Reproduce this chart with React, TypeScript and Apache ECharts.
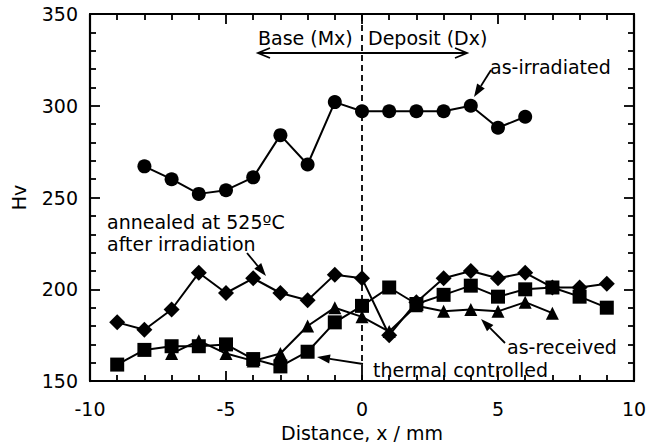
import React, { useEffect, useRef } from "react";
import * as echarts from "echarts";

const irradX = [-8, -7, -6, -5, -4, -3, -2, -1, 0, 1, 2, 3, 4, 5, 6];
const irradY = [267, 260, 252, 254, 261, 284, 268, 302, 297, 297, 297, 297, 300, 288, 294];

const annealX = [-9, -8, -7, -6, -5, -4, -3, -2, -1, 0, 1, 2, 3, 4, 5, 6, 7, 8, 9];
const annealY = [182, 178, 189, 209, 198, 206, 198, 194, 208, 206, 175, 193, 206, 210, 206, 209, 201, 201, 203];

const thermalX = [-9, -8, -7, -6, -5, -4, -3, -2, -1, 0, 1, 2, 3, 4, 5, 6, 7, 8, 9];
const thermalY = [159, 167, 169, 169, 170, 162, 158, 166, 182, 191, 201, 192, 197, 202, 196, 200, 201, 196, 190];

const receivedX = [-7, -6, -5, -4, -3, -2, -1, 0, 1, 2, 3, 4, 5, 6, 7];
const receivedY = [165, 172, 165, 161, 165, 180, 190, 185, 177, 191, 188, 189, 188, 193, 187];

const xTicks = { min: -10, max: 10, interval: 5 };
const yTicks = { min: 150, max: 350, interval: 50 };

const FONT = "DejaVu Sans";
const FS = 19;

function pairs(xs: number[], ys: number[]) {
  return xs.map((x, i) => [x, ys[i]]);
}

function arrow(x1: number, y1: number, x2: number, y2: number, L = 13, W = 9) {
  const dx = x2 - x1;
  const dy = y2 - y1;
  const len = Math.hypot(dx, dy);
  const ux = dx / len;
  const uy = dy / len;
  const bx = x2 - ux * L;
  const by = y2 - uy * L;
  const nx = -uy;
  const ny = ux;
  return [
    { type: "line", shape: { x1, y1, x2: bx, y2: by }, style: { stroke: "#000", lineWidth: 1.8 } },
    {
      type: "polygon",
      shape: {
        points: [
          [x2, y2],
          [bx + (nx * W) / 2, by + (ny * W) / 2],
          [bx - (nx * W) / 2, by - (ny * W) / 2],
        ],
      },
      style: { fill: "#000" },
    },
  ];
}

function chevron(tx: number, ty: number, dir: number) {
  const L = 12;
  const W = 5;
  return {
    type: "polyline",
    shape: { points: [[tx - dir * L, ty - W], [tx, ty], [tx - dir * L, ty + W]] },
    style: { stroke: "#000", lineWidth: 1.8, fill: "none" },
  };
}

function label(text: string, x: number, y: number) {
  return {
    type: "text",
    x,
    y,
    style: { text, fontSize: FS, fontFamily: FONT, fill: "#000", verticalAlign: "middle", align: "left" },
  };
}

export default function App() {
  const ref = useRef<HTMLDivElement>(null);
  useEffect(() => {
    if (!ref.current) return;
    const chart = echarts.init(ref.current, null, { renderer: "svg" });
    const axisCommon = {
      axisLine: { show: true, onZero: false, lineStyle: { color: "#000", width: 2.2 } },
      axisTick: { show: true, inside: true, length: 10, lineStyle: { color: "#000", width: 1.8 } },
      minorTick: { show: true, splitNumber: 5, length: 6, lineStyle: { color: "#000", width: 1.8 } },
      splitLine: { show: false },
    };
    const lineStyle = { color: "#000", width: 2 };
    const mkSeries = (data: number[][], symbol: string, size: number, extra: any = {}) => ({
      type: "line",
      data,
      symbol,
      symbolSize: size,
      lineStyle,
      itemStyle: { color: "#000" },
      showSymbol: true,
      ...extra,
    });
    chart.setOption({
      animation: false,
      backgroundColor: "#fff",
      textStyle: { fontFamily: FONT },
      grid: { left: 90, right: 16, top: 14, bottom: 62 },
      xAxis: [
        {
          type: "value",
          ...xTicks,
          position: "bottom",
          ...axisCommon,
          axisLabel: { color: "#000", fontSize: FS, fontFamily: FONT, margin: 18 },
          name: "Distance, x / mm",
          nameLocation: "middle",
          nameGap: 40,
          nameTextStyle: { color: "#000", fontSize: FS, fontFamily: FONT },
        },
        { type: "value", ...xTicks, position: "top", ...axisCommon, axisLabel: { show: false } },
      ],
      yAxis: [
        {
          type: "value",
          ...yTicks,
          position: "left",
          ...axisCommon,
          axisLabel: { color: "#000", fontSize: FS, fontFamily: FONT, margin: 12 },
          name: "Hv",
          nameLocation: "middle",
          nameGap: 62,
          nameRotate: 90,
          nameTextStyle: { color: "#000", fontSize: FS, fontFamily: FONT },
        },
        { type: "value", ...yTicks, position: "right", ...axisCommon, axisLabel: { show: false } },
      ],
      series: [
        mkSeries(pairs(irradX, irradY), "circle", 14, {
          markLine: {
            silent: true,
            symbol: "none",
            label: { show: false },
            lineStyle: { color: "#000", type: [6, 4], width: 1.8 },
            data: [{ xAxis: 0 }],
          },
        }),
        mkSeries(pairs(annealX, annealY), "diamond", 16),
        mkSeries(pairs(receivedX, receivedY), "triangle", 13),
        mkSeries(pairs(thermalX, thermalY), "rect", 14),
      ],
      graphic: [
        label("Base (Mx)", 258, 38),
        label("Deposit (Dx)", 368, 38),
        { type: "line", shape: { x1: 258, y1: 53, x2: 467, y2: 53 }, style: { stroke: "#000", lineWidth: 1.8 } },
        chevron(258, 53, -1),
        chevron(467, 53, 1),
        label("as-irradiated", 490, 67),
        ...arrow(491, 70, 474, 97),
        label("annealed at 525ºC", 107, 222),
        label("after irradiation", 107, 244),
        ...arrow(247, 253, 266, 276),
        label("as-received", 507, 347),
        ...arrow(505, 343, 481, 319),
        label("thermal controlled", 373, 370),
        ...arrow(363, 364, 317, 357),
      ],
    });
    return () => chart.dispose();
  }, []);
  return <div ref={ref} style={{ position: "fixed", left: 0, top: 0, width: 650, height: 447, background: "#fff" }} />;
}
